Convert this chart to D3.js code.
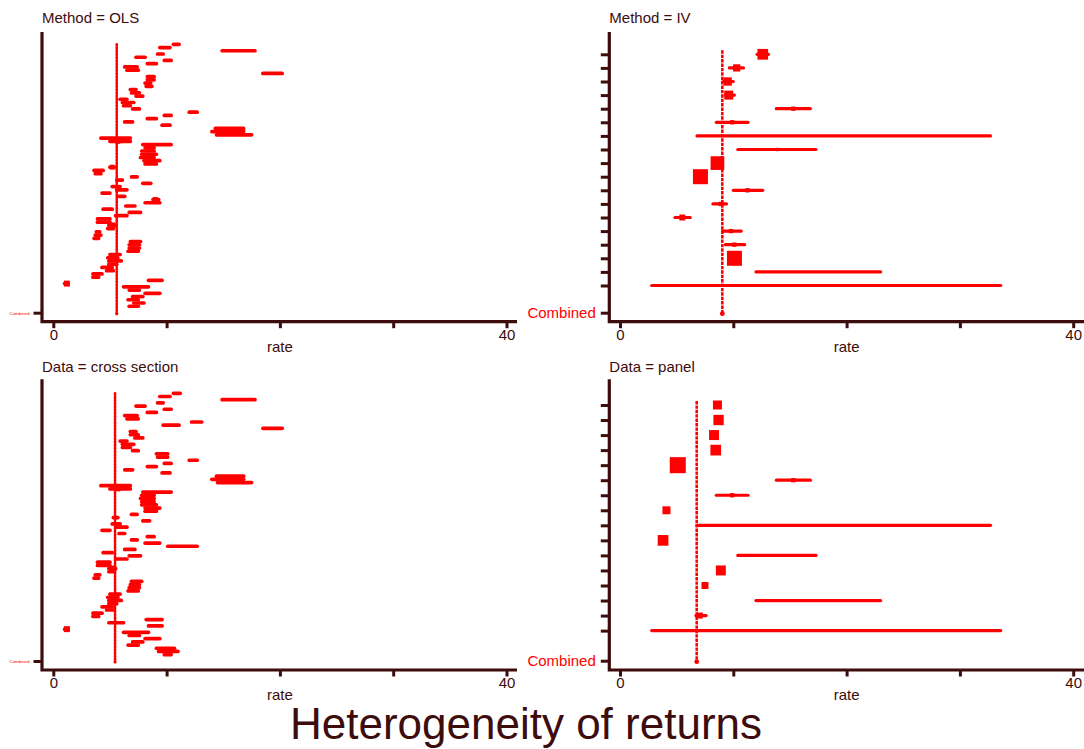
<!DOCTYPE html>
<html>
<head>
<meta charset="utf-8">
<script src="https://cdn.jsdelivr.net/npm/d3@7"></script>
<style>
  body { margin: 0; background: #fff; }
  svg { display: block; }
  text { font-family: "Liberation Sans", Arial, Helvetica, sans-serif; }
</style>
</head>
<body>
<div id="chart"></div>
<script>
/* study rows: [estimate, lower, upper, weight] */
var olsRows = [
  [10.8,10.6,11.1,.2],[9.8,9.4,10.3,.2],[16.3,14.9,17.8,.2],[9.4,9.2,9.7,.2],[7.7,7.3,8.1,.2],
  [10.1,9.8,10.4,.2],[8.7,8.3,9.1,.2],[6.9,6.3,7.4,.2],[7.0,6.5,7.5,.2],[19.3,18.5,20.2,.2],
  [8.6,8.3,8.9,.2],[8.6,8.3,8.9,.2],[8.4,8.1,8.6,.2],[8.5,8.2,8.7,.2],[7.1,6.8,7.3,.2],
  [7.2,6.9,7.6,.2],[7.6,7.3,7.9,.2],[6.2,5.9,6.5,.2],[6.6,6.1,7.1,.2],[6.5,6.2,6.8,.2],
  [7.3,7.0,7.6,.2],[12.3,12.0,12.7,.2],[10.1,9.8,10.4,.2],[8.7,8.3,9.1,.2],[6.6,6.3,7.0,.2],
  [10.0,9.6,10.3,.2],[15.6,14.3,16.8,.2],[15.4,14.0,16.8,.2],[15.9,14.4,17.5,.2],[5.5,4.2,6.8,.2],
  [5.7,5.0,6.8,1.3],[8.6,7.9,10.4,.2],[8.5,8.1,8.9,.2],[8.3,7.8,8.9,.2],[8.4,7.8,9.1,.2],
  [8.3,7.7,8.9,.2],[8.7,8.0,9.4,.2],[8.6,8.1,9.1,.2],[5.2,5.0,5.4,1.3],[4.0,3.6,4.4,.2],
  [3.9,3.7,4.2,.2],[7.1,6.9,7.4,.2],[5.8,5.6,6.1,.2],[8.3,7.9,8.6,.2],[5.5,5.2,5.9,.2],
  [6.0,5.6,6.5,.2],[4.7,4.3,5.0,.2],[6.0,5.8,6.3,.2],[9.0,8.8,9.3,1.3],[8.8,8.1,9.4,.2],
  [6.8,6.4,7.2,.2],[4.8,4.4,5.2,.2],[7.2,6.7,7.7,.2],[6.0,5.5,6.5,.2],[4.5,3.9,5.0,.2],
  [4.4,3.9,5.0,.2],[5.2,4.9,5.5,1.9],[5.1,4.8,5.3,.2],[3.9,3.8,4.1,.2],[3.9,3.7,4.2,.2],
  [3.8,3.6,4.0,.2],[7.3,6.8,7.7,.2],[7.2,6.7,7.6,.2],[7.2,6.7,7.6,.2],[7.1,6.6,7.5,.2],
  [5.5,5.0,5.9,.2],[5.2,4.8,5.7,.2],[5.4,4.9,6.0,.2],[5.3,4.9,5.6,.2],[4.7,4.3,5.2,.2],
  [5.0,4.7,5.3,.2],[3.9,3.5,4.3,.2],[3.7,3.5,4.0,.2],[9.0,8.4,9.6,.2],[1.2,1.0,1.3,1.9],
  [7.3,6.2,8.4,.2],[7.2,6.7,7.6,.2],[8.7,8.1,9.4,.2],[7.5,7.0,7.9,.2],[7.0,6.6,7.5,.2],
  [7.6,7.1,8.0,.2],[7.1,6.7,7.5,.2]
];

var ivRows = [
  [12.6,12.1,13.1,6.1],[10.3,9.65,10.9,2.8],[9.5,9.1,10.0,3.7],[9.6,9.3,10.1,4.3],
  [15.3,13.8,16.8,1.0],[9.9,8.5,11.3,1.0],[19.8,6.8,32.7,.05],[13.9,10.4,17.3,.6],
  [8.6,8.5,8.8,10],[7.1,7.0,7.2,12],[11.25,10.0,12.6,1.0],[8.9,8.2,9.4,1.0],
  [5.5,4.85,6.2,1.9],[9.8,9.05,10.7,1.0],[10.1,9.3,11.0,1.0],[10.1,10.0,10.2,12],
  [17.5,12.0,23.0,.05],[18.2,2.8,33.6,.05]
];

var crossRows = [
  [10.9,10.6,11.2,.2],[9.8,9.4,10.3,.2],[16.3,14.9,17.8,.2],[9.4,9.2,9.7,.2],[7.7,7.3,8.1,.2],
  [10.1,9.8,10.4,.2],[8.7,8.3,9.1,.2],[6.9,6.3,7.4,.2],[7.0,6.5,7.5,.2],[12.6,12.2,13.1,.2],
  [10.4,9.7,11.1,.2],[19.3,18.5,20.2,.2],[7.1,6.8,7.3,.2],[7.1,6.8,7.5,.2],[7.6,7.2,7.9,.2],
  [6.2,5.9,6.5,.2],[6.6,6.1,7.1,.2],[6.5,6.1,6.8,.2],[7.3,7.0,7.5,.2],[9.6,9.1,10.1,.2],
  [9.6,9.2,10.1,.2],[12.4,12.0,12.7,.2],[10.1,9.8,10.4,.2],[8.7,8.3,9.1,.2],[6.6,6.3,7.0,.2],
  [10.0,9.6,10.3,.2],[15.6,14.4,16.8,.2],[15.4,14.0,16.8,.2],[15.9,14.5,17.5,.2],[5.5,4.2,6.8,.2],
  [5.7,5.0,6.8,1.3],[8.6,7.9,10.4,.2],[8.3,7.8,8.9,.2],[8.3,7.7,8.9,.2],[8.4,7.8,8.9,.2],
  [8.4,7.8,9.1,.2],[8.7,8.1,9.4,.2],[8.6,8.1,9.1,.2],[7.1,6.9,7.4,.2],[5.5,5.3,5.7,.2],
  [8.2,7.9,8.5,.2],[5.5,5.2,5.9,.2],[6.0,5.6,6.5,.2],[4.7,4.3,5.0,.2],[6.0,5.8,6.3,.2],
  [8.6,8.3,8.9,.2],[7.1,6.9,7.4,.2],[8.8,8.1,9.4,.2],[11.3,10.1,12.7,.2],[6.8,6.3,7.2,.2],
  [4.8,4.4,5.2,.2],[7.2,6.7,7.7,.2],[6.0,5.5,6.5,.2],[4.5,3.9,5.0,.2],[4.4,3.9,5.0,.2],
  [5.2,4.9,5.5,1.9],[5.2,4.9,5.4,.2],[3.9,3.7,4.1,.2],[3.8,3.6,4.0,.2],[7.3,6.9,7.8,.2],
  [7.2,6.8,7.6,.2],[7.2,6.7,7.6,.2],[7.1,6.6,7.5,.2],[5.5,5.0,5.9,.2],[5.2,4.8,5.7,.2],
  [5.4,4.9,6.0,.2],[5.3,4.9,5.6,.2],[4.7,4.3,5.2,.2],[5.0,4.7,5.3,.2],[3.9,3.5,4.3,.2],
  [3.7,3.5,4.0,.2],[8.9,8.2,9.6,.2],[5.5,4.9,6.2,.2],[9.0,8.4,9.6,.2],[1.2,1.0,1.3,1.9],
  [7.3,6.2,8.4,.2],[7.2,6.7,7.6,.2],[8.7,8.1,9.4,.2],[7.5,7.0,7.9,.2],[7.0,6.6,7.5,.2],
  [9.9,9.1,10.7,.2],[10.2,9.3,11.0,.2],[10.1,9.8,10.4,.2]
];

var panelRows = [
  [8.6,8.5,8.7,4.3],[8.7,8.6,8.8,5.7],[8.3,8.2,8.4,5.3],[8.45,8.35,8.55,6.1],
  [5.1,5.0,5.2,13.7],[15.3,13.8,16.8,1.0],[9.9,8.5,11.3,1.0],[4.1,3.95,4.3,3.4],
  [19.7,6.8,32.7,.05],[3.8,3.7,3.9,6.1],[13.9,10.4,17.3,.05],[8.9,8.8,9.0,5.3],
  [7.5,7.4,7.6,2.6],[17.5,12.0,23.0,.05],[7.05,6.7,7.6,1.9],[18.2,2.8,33.6,.05]
];

var panelTitles = ["Method = OLS", "Method = IV", "Data = cross section", "Data = panel"];
var pooledRates = [5.6, 9.03, 5.45, 6.77];
var rateTicks = [0, 10, 20, 30, 40];
var rateTickLabels = ["0", "", "", "", "40"];
var mainTitle = "Heterogeneity of returns";

var W = 1084, H = 749;
var ink = "#3d0c0c", red = "#ff0000";

var svg = d3.select("#chart").append("svg")
  .attr("width", W)
  .attr("height", H);

/* panel frames */
var frames = [
  {rows: olsRows,   ax: 42,    top: 32,    bottom: 321.7, right: 517,  x0: 53.3, x40: 506.5,  first: 44.3,  comb: 312.7, titleY: 23.3,  small: true},
  {rows: ivRows,    ax: 609.3, top: 32,    bottom: 321.7, right: 1084, x0: 620,  x40: 1073.2, first: 54.3,  comb: 312.7, titleY: 23.3,  small: false},
  {rows: crossRows, ax: 42,    top: 379.3, bottom: 670,   right: 517,  x0: 53.3, x40: 506.5,  first: 393.3, comb: 661,   titleY: 372.3, small: true},
  {rows: panelRows, ax: 609.3, top: 379.3, bottom: 670,   right: 1084, x0: 620,  x40: 1073.2, first: 405,   comb: 660.7, titleY: 372.3, small: false}
];

var boxSize = d3.scaleSqrt().domain([0, 12]).range([0, 15]);

frames.forEach(function(f, p) {
  var n = f.rows.length;
  var x = d3.scaleLinear().domain([0, 40]).range([f.x0, f.x40]);
  var y = d3.scaleLinear().domain([0, n + 1]).range([f.first, f.comb]);
  var g = svg.append("g");

  // panel title
  g.append("text")
    .attr("x", f.ax)
    .attr("y", f.titleY)
    .attr("font-size", 15)
    .attr("fill", ink)
    .text(panelTitles[p]);

  // x axis ticks + labels
  var xAxis = d3.axisBottom(x)
    .tickValues(rateTicks)
    .tickSize(6.5)
    .tickSizeOuter(0)
    .tickPadding(1)
    .tickFormat(function(d, i) { return rateTickLabels[i]; });
  var xg = g.append("g")
    .attr("transform", "translate(0," + f.bottom + ")")
    .call(xAxis);
  xg.select(".domain").remove();
  xg.selectAll(".tick line").attr("stroke", ink).attr("stroke-width", 3);
  xg.selectAll(".tick text")
    .attr("fill", ink)
    .attr("font-size", 15)
    .attr("font-family", "Liberation Sans, Arial, sans-serif");

  // y axis ticks (every study on the right panels, only Combined on the left)
  var yVals = f.small ? [n + 1] : d3.range(n).concat([n + 1]);
  var yAxis = d3.axisLeft(y)
    .tickValues(yVals)
    .tickSize(8.5)
    .tickSizeOuter(0)
    .tickPadding(f.small ? 4 : 5)
    .tickFormat(function(d) { return d === n + 1 ? "Combined" : ""; });
  var yg = g.append("g")
    .attr("transform", "translate(" + f.ax + ",0)")
    .call(yAxis);
  yg.select(".domain").remove();
  yg.selectAll(".tick line").attr("stroke", ink).attr("stroke-width", 3);
  yg.selectAll(".tick text")
    .attr("fill", red)
    .attr("font-size", f.small ? 4.4 : 15)
    .attr("font-family", "Liberation Sans, Arial, sans-serif");

  // axis lines
  g.append("path")
    .attr("d", "M" + f.ax + "," + f.top + "V" + f.bottom + "H" + f.right)
    .attr("fill", "none")
    .attr("stroke", ink)
    .attr("stroke-width", 3.2)
    .attr("stroke-linejoin", "miter");

  g.append("text")
    .attr("x", (f.x0 + f.x40) / 2)
    .attr("y", f.bottom + 30)
    .attr("text-anchor", "middle")
    .attr("font-size", 15)
    .attr("fill", ink)
    .text("rate");

  // pooled estimate line
  var px = x(pooledRates[p]);
  g.append("line")
    .attr("x1", px).attr("x2", px)
    .attr("y1", f.small ? y(0) : y(0) - 4)
    .attr("y2", y(n + 1) + 1)
    .attr("stroke", red)
    .attr("stroke-width", f.small ? 2.6 : 2.6)
    .attr("stroke-dasharray", f.small ? "1.4,1.8" : "3.4,1")
    .attr("stroke-linecap", f.small ? "round" : "butt");
  g.append("circle")
    .attr("cx", px)
    .attr("cy", y(n + 1) + 1)
    .attr("r", f.small ? 1.6 : 2.4)
    .attr("fill", red);

  // confidence intervals
  g.selectAll("line.ci")
    .data(f.rows)
    .enter().append("line")
    .attr("class", "ci")
    .attr("x1", function(d) { return x(d[1]); })
    .attr("x2", function(d) { return x(d[2]); })
    .attr("y1", function(d, i) { return y(i); })
    .attr("y2", function(d, i) { return y(i); })
    .attr("stroke", red)
    .attr("stroke-width", f.small ? 3.7 : 3.2)
    .attr("stroke-linecap", "round");

  // weighted boxes
  g.selectAll("rect.box")
    .data(f.rows)
    .enter().append("rect")
    .attr("class", "box")
    .attr("x", function(d) { return x(d[0]) - boxSize(d[3]) / 2; })
    .attr("y", function(d, i) { return y(i) - boxSize(d[3]) / 2; })
    .attr("width", function(d) { return boxSize(d[3]); })
    .attr("height", function(d) { return boxSize(d[3]); })
    .attr("fill", red);
});

svg.append("text")
  .attr("x", 526)
  .attr("y", 739)
  .attr("text-anchor", "middle")
  .attr("font-size", 44)
  .attr("fill", ink)
  .text(mainTitle);
</script>
</body>
</html>
